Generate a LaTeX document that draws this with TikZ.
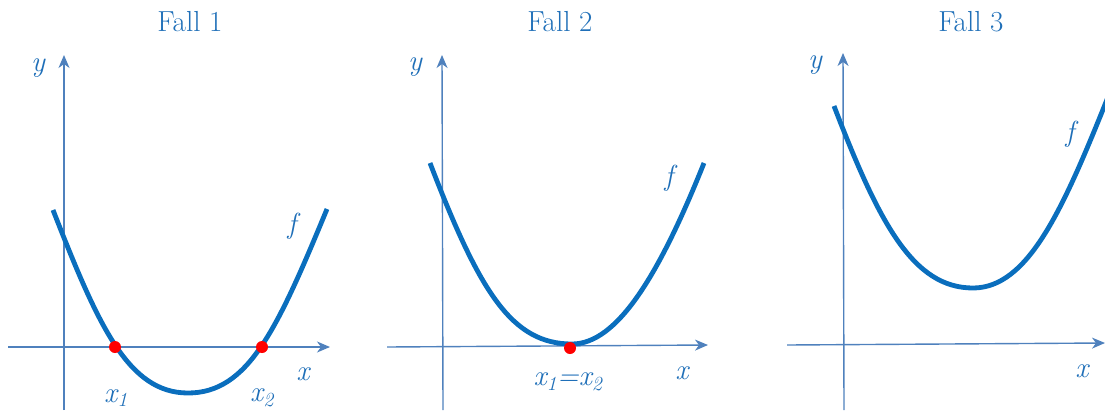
\documentclass[tikz,border=0pt]{standalone}
\usetikzlibrary{arrows.meta}
\definecolor{axisblue}{HTML}{4F81BD}
\definecolor{curveblue}{HTML}{0A6EBD}
\definecolor{textblue}{HTML}{1F6FB8}
\definecolor{dotred}{HTML}{FF0000}
\tikzset{
  axis/.style={draw=axisblue,line width=1.4pt,-{Stealth[length=13pt,width=11pt,inset=4pt]}},
  fcurve/.style={draw=curveblue,line width=4.8pt},
  title/.style={text=textblue,font=\fontsize{29}{32}\selectfont},
  lab/.style={text=textblue,font=\fontsize{29}{31}\selectfont\itshape},
  dot/.style={fill=dotred,draw=none},
}
\newcommand{\sbx}[1]{\textsubscript{\fontsize{20}{20}\selectfont #1}}
\begin{document}
\begin{tikzpicture}[x=1pt,y=-1pt]
\useasboundingbox (0,0) rectangle (1105,410);
% ---------- Fall 1
\node[title] (t1) at (190,22) {Fall 1};
\coordinate (x1s) at (8,347);
\coordinate (x1e) at (330,347);
\coordinate (y1s) at (64,410);
\coordinate (y1e) at (64,55);
\draw[axis] (x1s) -- (x1e);
\draw[axis] (y1s) -- (y1e);
\coordinate (a1) at (53,210);
\coordinate (m1) at (188,393);
\coordinate (b1) at (327,209);
\draw[fcurve] (a1) .. controls (98,325) and (128,393) .. (m1)
                   .. controls (248,393) and (277,330) .. (b1);
\fill[dot] (115,347) circle (6);
\fill[dot] (262,347) circle (6);
\node[lab] (y1) at (38,68) {y};
\node[lab] (xl1) at (303,374) {x};
\node[lab] (f1) at (292,226) {f};
\node[lab] (r1) at (116,398) {x\sbx{1}};
\node[lab] (r2) at (262,398) {x\sbx{2}};
% ---------- Fall 2
\node[title] (t2) at (560,22) {Fall 2};
\coordinate (x2s) at (387,347);
\coordinate (x2e) at (708,345);
\coordinate (y2s) at (443,410);
\coordinate (y2e) at (442,55);
\draw[axis] (x2s) -- (x2e);
\draw[axis] (y2s) -- (y2e);
\coordinate (a2) at (430,163);
\coordinate (m2) at (572,344);
\coordinate (b2) at (704,163);
\draw[fcurve] (a2) .. controls (480,293) and (512,344) .. (m2)
                   .. controls (617,344) and (659,275.5) .. (b2);
\fill[dot] (570,348) circle (6);
\node[lab] (y2) at (415,67) {y};
\node[lab] (xl2) at (682,373) {x};
\node[lab] (f2) at (669,178) {f};
\node[lab] (r12) at (568,382) {x\sbx{1}=x\sbx{2}};
% ---------- Fall 3
\node[title] (t3) at (971,22) {Fall 3};
\coordinate (x3s) at (787,345);
\coordinate (x3e) at (1105,343);
\coordinate (y3s) at (844,410);
\coordinate (y3e) at (843,53);
\draw[axis] (x3s) -- (x3e);
\draw[axis] (y3s) -- (y3e);
\coordinate (a3) at (834,106);
\coordinate (m3) at (973,288);
\coordinate (b3) at (1108,97);
\draw[fcurve] (a3) .. controls (879,223) and (913,288) .. (m3)
                   .. controls (1028,288) and (1063,209.5) .. (b3);
\node[lab] (y3) at (815,65) {y};
\node[lab] (xl3) at (1082,371) {x};
\node[lab] (f3) at (1070,134) {f};
\end{tikzpicture}
\end{document}
